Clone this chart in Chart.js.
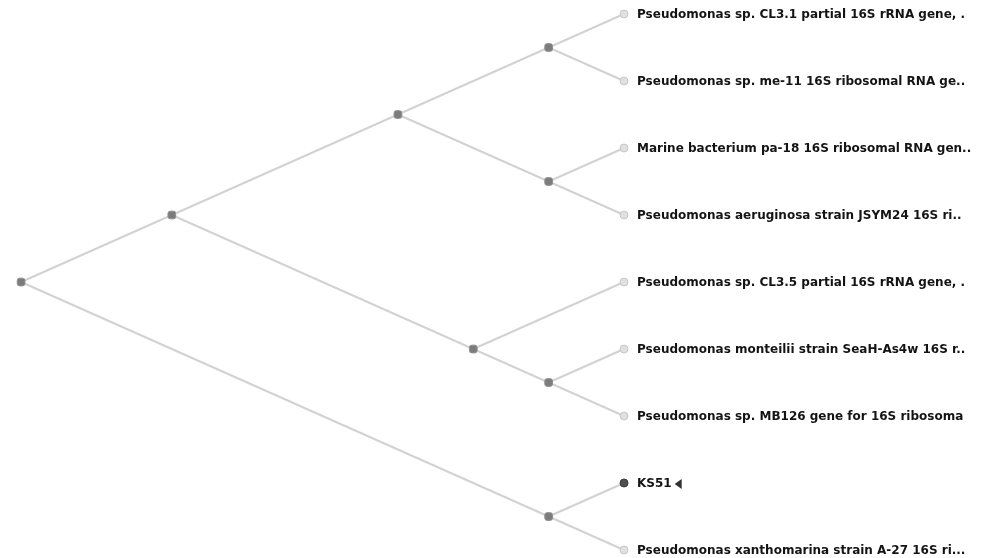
<!DOCTYPE html>
<html>
<head>
<meta charset="utf-8">
<title>Phylogenetic tree</title>
<script src="https://cdn.jsdelivr.net/npm/chart.js@4/dist/chart.umd.min.js"></script>
<style>
  html, body { margin: 0; padding: 0; background: #ffffff; }
  #tree { display: block; }
</style>
</head>
<body>
<canvas id="tree" width="986" height="558"></canvas>
<script>
// Internal (ancestral) nodes: depth along the tree, row position (mean of descendant leaf rows)
const internalIds   = ['n0', 'n1', 'n2', 'n3', 'n4', 'n5', 'n6', 'n7'];
const internalDepth = [0, 0.2, 0.5, 0.7, 0.7, 0.6, 0.7, 0.7];
const internalRow   = [4, 3, 1.5, 0.5, 2.5, 5, 5.5, 7.5];

// Leaves (sequences), top to bottom
const leafIds = ['L0', 'L1', 'L2', 'L3', 'L4', 'L5', 'L6', 'L7', 'L8'];
const leafLabels = [
  'Pseudomonas sp. CL3.1 partial 16S rRNA gene, .',
  'Pseudomonas sp. me-11 16S ribosomal RNA ge..',
  'Marine bacterium pa-18 16S ribosomal RNA gen..',
  'Pseudomonas aeruginosa strain JSYM24 16S ri..',
  'Pseudomonas sp. CL3.5 partial 16S rRNA gene, .',
  'Pseudomonas monteilii strain SeaH-As4w 16S r..',
  'Pseudomonas sp. MB126 gene for 16S ribosoma',
  'KS51',
  'Pseudomonas xanthomarina strain A-27 16S ri...'
];
const leafDepth = [0.8, 0.8, 0.8, 0.8, 0.8, 0.8, 0.8, 0.8, 0.8];
const leafRow   = [0, 1, 2, 3, 4, 5, 6, 7, 8];
const queryLeaf = 'L7';

// Branches: parent -> child
const edgeParent = ['n0', 'n0', 'n1', 'n1', 'n2', 'n2', 'n3', 'n3', 'n4', 'n4', 'n5', 'n5', 'n6', 'n6', 'n7', 'n7'];
const edgeChild  = ['n1', 'n7', 'n2', 'n5', 'n3', 'n4', 'L0', 'L1', 'L2', 'L3', 'L4', 'n6', 'L5', 'L6', 'L7', 'L8'];

// Lookup of node coordinates in data units
const nodePos = {};
internalIds.forEach((id, i) => { nodePos[id] = { x: internalDepth[i], y: internalRow[i] }; });
leafIds.forEach((id, i) => { nodePos[id] = { x: leafDepth[i], y: leafRow[i] }; });

const BRANCH = '#d2d2d2';

const branchSets = edgeParent.map((p, i) => ({
  type: 'scatter',
  data: [nodePos[p], nodePos[edgeChild[i]]],
  showLine: true,
  borderColor: BRANCH,
  borderWidth: 2,
  pointRadius: 0,
  order: 3
}));

const leafSet = {
  type: 'scatter',
  data: leafIds.map(id => nodePos[id]),
  pointStyle: 'circle',
  pointRadius: 4,
  backgroundColor: leafIds.map(id => id === queryLeaf ? '#505050' : '#e0e0e0'),
  borderColor: leafIds.map(id => id === queryLeaf ? '#3a3a3a' : '#c8c8c8'),
  borderWidth: 1,
  order: 1
};

const internalSet = {
  type: 'scatter',
  data: internalIds.map(id => nodePos[id]),
  pointStyle: 'rectRounded',
  pointRadius: 4.5,
  backgroundColor: '#7c7c7c',
  borderColor: '#909090',
  borderWidth: 1,
  order: 1
};

// Leaf names drawn next to each tip
const leafLabelPlugin = {
  id: 'leafLabels',
  afterDatasetsDraw(chart) {
    const { ctx, scales: { x, y } } = chart;
    ctx.save();
    ctx.font = 'bold 12px "DejaVu Sans"';
    ctx.fillStyle = '#141414';
    ctx.textBaseline = 'middle';
    ctx.textAlign = 'left';
    leafIds.forEach((id, i) => {
      const px = x.getPixelForValue(leafDepth[i]) + 13;
      const py = y.getPixelForValue(leafRow[i]) + 1;
      ctx.fillText(leafLabels[i], px, py);
      if (id === queryLeaf) {
        // pointer marking the query sequence
        const w = ctx.measureText(leafLabels[i]).width;
        const tx = px + w + 3;
        ctx.fillStyle = '#333333';
        ctx.beginPath();
        ctx.moveTo(tx, py);
        ctx.lineTo(tx + 7, py - 5);
        ctx.lineTo(tx + 7, py + 5);
        ctx.closePath();
        ctx.fill();
        ctx.fillStyle = '#141414';
      }
    });
    ctx.restore();
  }
};

new Chart(document.getElementById('tree'), {
  type: 'scatter',
  data: { datasets: [...branchSets, internalSet, leafSet] },
  options: {
    responsive: false,
    devicePixelRatio: 1,
    animation: false,
    layout: { padding: 0, autoPadding: false },
    plugins: { legend: { display: false }, tooltip: { enabled: false } },
    scales: {
      x: { type: 'linear', display: false, min: -0.028, max: 1.2803 },
      y: { type: 'linear', display: false, reverse: true, min: -0.209, max: 8.119 }
    }
  },
  plugins: [leafLabelPlugin]
});
</script>
</body>
</html>
